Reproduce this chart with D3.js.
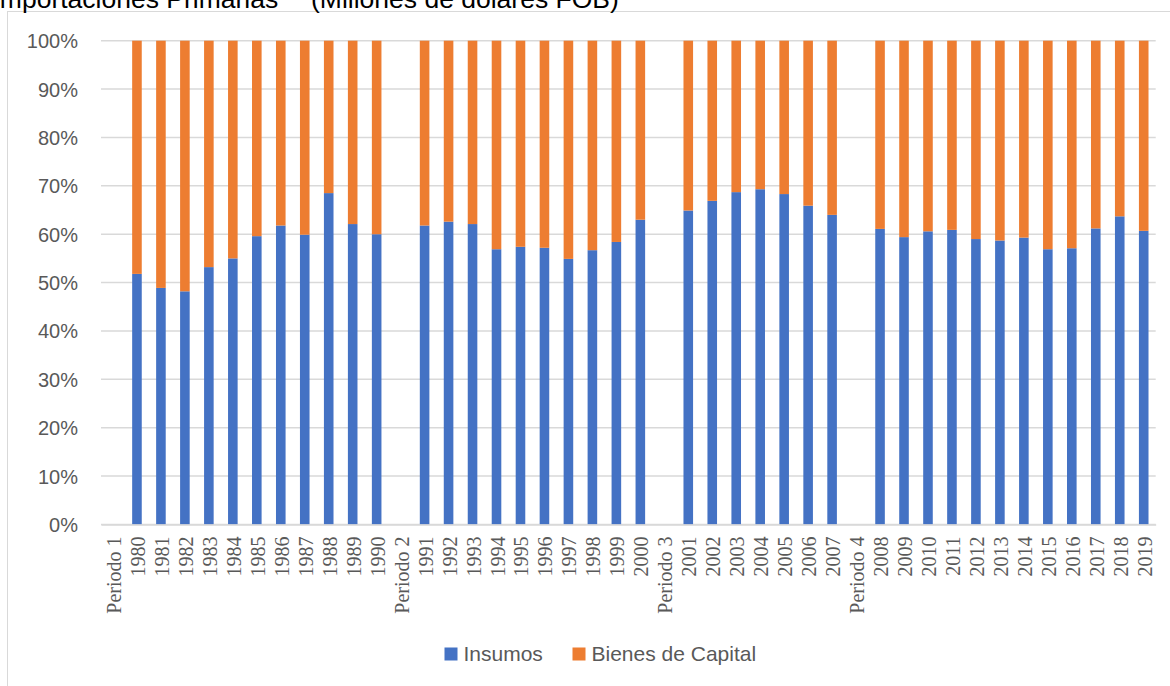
<!DOCTYPE html>
<html><head><meta charset="utf-8">
<script src="https://cdn.jsdelivr.net/npm/d3@7/dist/d3.min.js"></script>
<style>html,body{margin:0;padding:0;background:#fff;overflow:hidden}</style>
</head><body>
<svg id="chart" width="1170" height="686"></svg>
<script>
// ---- data ----
const titleMain = "Importaciones Primarias";
const titleSub = "(Millones de dolares FOB)";
const categories = ["Periodo 1","1980","1981","1982","1983","1984","1985","1986","1987","1988","1989","1990",
  "Periodo 2","1991","1992","1993","1994","1995","1996","1997","1998","1999","2000",
  "Periodo 3","2001","2002","2003","2004","2005","2006","2007",
  "Periodo 4","2008","2009","2010","2011","2012","2013","2014","2015","2016","2017","2018","2019"];
// share of Insumos (%) ; null = period separator without bar
const insumos = [null,51.8,48.9,48.2,53.2,55.0,59.6,61.8,59.9,68.5,62.1,60.0,
  null,61.8,62.6,62.1,56.9,57.4,57.2,54.9,56.7,58.4,63.0,
  null,64.9,66.9,68.7,69.3,68.3,65.9,64.0,
  null,61.1,59.4,60.6,60.9,59.0,58.7,59.3,56.9,57.1,61.2,63.7,60.7];
const bienesCapital = insumos.map(v => v == null ? null : +(100 - v).toFixed(1));
const seriesNames = ["Insumos","Bienes de Capital"];
const seriesColors = ["#4472C4","#ED7D31"];
const yTicks = [0,10,20,30,40,50,60,70,80,90,100];

// ---- layout ----
const svg = d3.select("#chart");
const plot = {left:101, right:1155.7, top:40.7, bottom:524.5};
const x = d3.scaleBand().domain(categories).range([plot.left, plot.right]).paddingInner(0.6).paddingOuter(0.3);
const y = d3.scaleLinear().domain([0,100]).range([plot.bottom, plot.top]);
const gray = "#595959", grid = "#d9d9d9";

// chart border
svg.append("rect").attr("x",7.5).attr("y",11.5).attr("width",1200).attr("height",700)
  .attr("fill","none").attr("stroke",grid).attr("stroke-width",1);

// title
const t = svg.append("text").attr("y",7.5).attr("font-family","'Liberation Sans', Arial, sans-serif")
  .attr("font-size",26.5).attr("fill","#000");
t.append("tspan").attr("x",-7.5).text(titleMain);
t.append("tspan").attr("x",311).text(titleSub);

// gridlines
svg.append("g").selectAll("line").data(yTicks).join("line")
  .attr("x1",plot.left).attr("x2",plot.right)
  .attr("y1",d=>y(d)).attr("y2",d=>y(d))
  .attr("stroke",grid).attr("stroke-width",1.5);

// y axis labels
const yAxis = d3.axisLeft(y).tickValues(yTicks).tickFormat(d=>d+"%").tickSize(0).tickPadding(0);
const gy = svg.append("g").attr("transform","translate(78,0)").call(yAxis);
gy.select(".domain").remove();
gy.selectAll("text").attr("font-family","'Liberation Sans', Arial, sans-serif")
  .attr("font-size",20).attr("fill",gray).attr("dy","0.35em");

// bars
const rows = categories.map((c,i)=>({c, a:insumos[i], b:bienesCapital[i]})).filter(d=>d.a!=null);
svg.append("g").selectAll("rect").data(rows).join("rect")
  .attr("x",d=>x(d.c)).attr("width",x.bandwidth())
  .attr("y",d=>y(d.a)).attr("height",d=>y(0)-y(d.a))
  .attr("fill",seriesColors[0]);
svg.append("g").selectAll("rect").data(rows).join("rect")
  .attr("x",d=>x(d.c)).attr("width",x.bandwidth())
  .attr("y",d=>y(d.a+d.b)).attr("height",d=>y(d.a)-y(d.a+d.b))
  .attr("fill",seriesColors[1]);

// x axis
const xAxis = d3.axisBottom(x).tickSize(0).tickPadding(0);
const gx = svg.append("g").attr("transform",`translate(0,${plot.bottom})`).call(xAxis);
gx.select(".domain").attr("stroke",grid).attr("stroke-width",1.5);
gx.selectAll("text").attr("font-family","'Liberation Serif', 'Times New Roman', serif")
  .attr("font-size",20).attr("fill",gray)
  .attr("text-anchor","end").attr("transform","translate(1,12) rotate(-90)")
  .attr("x",0).attr("y",0).attr("dy","0.35em");

// legend
const leg = svg.append("g");
const legX = [444.5, 572.5];
seriesNames.forEach((n,i)=>{
  leg.append("rect").attr("x",legX[i]).attr("y",647.5).attr("width",13).attr("height",13).attr("fill",seriesColors[i]);
  leg.append("text").attr("x",legX[i]+19).attr("y",654).attr("dy","0.35em")
    .attr("font-family","'Liberation Sans', Arial, sans-serif").attr("font-size",21).attr("fill",gray).text(n);
});
</script>
</body></html>
